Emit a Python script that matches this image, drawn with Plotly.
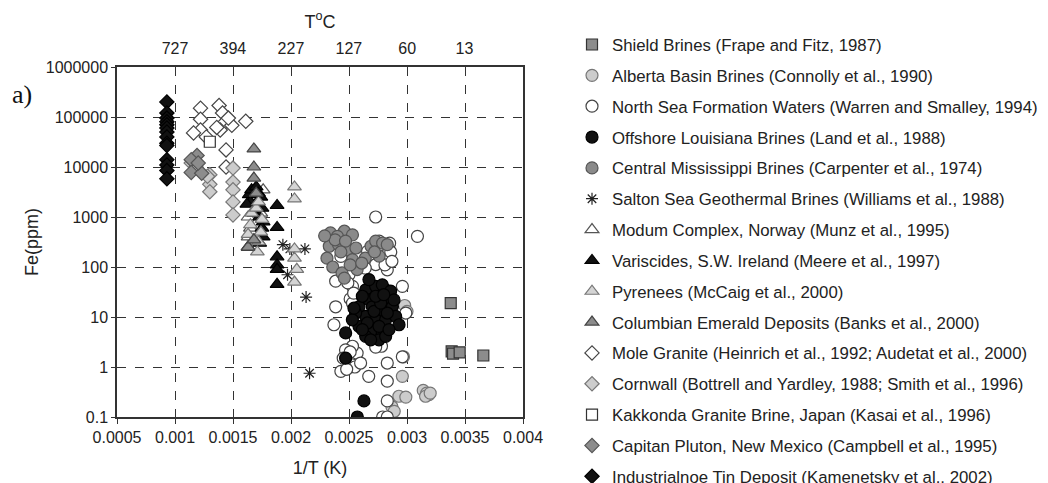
import plotly.graph_objects as go

# ---------------- data: x = 1/T (1/K), y = Fe (ppm) ----------------
shield_x = [0.003377, 0.003385, 0.003397, 0.003454, 0.003658]
shield_y = [19, 2.06, 1.85, 1.97, 1.7]

alberta_x = [0.00298, 0.00300, 0.00297, 0.00296, 0.00293, 0.00299, 0.00287, 0.00289,
             0.00314, 0.00317, 0.00319, 0.00316, 0.00320]
alberta_y = [17, 13, 1.6, 0.65, 0.26, 0.25, 0.16, 0.13, 0.34, 0.30, 0.28, 0.26, 0.30]

northsea_x = [0.00273, 0.00309, 0.002385, 0.002385, 0.00237, 0.00253, 0.00251, 0.00253,
              0.00296, 0.00299, 0.00243, 0.00253, 0.00257, 0.00253, 0.00247, 0.00267,
              0.00283, 0.00283, 0.00296, 0.00283, 0.00279, 0.00283, 0.00276, 0.00282,
              0.00266, 0.00279, 0.00283, 0.00273, 0.00264, 0.00250, 0.00243, 0.00249,
              0.00254, 0.00278, 0.00273, 0.00285, 0.00286, 0.00281, 0.00275, 0.00287,
              0.00255, 0.00251, 0.00260, 0.00245, 0.00248]
northsea_y = [1000, 410, 52, 16, 7, 41, 23, 19,
              41, 12, 0.82, 1.1, 1.9, 2.6, 2.2, 0.65,
              1.2, 0.52, 1.6, 0.21, 0.1, 0.1, 330, 240,
              206, 140, 88, 112, 95, 70, 163, 48,
              30, 2.6, 2.5, 300, 200, 110, 250, 130,
              1.0, 2.0, 1.2, 1.5, 0.9]

louisiana_x = [0.002644, 0.00273, 0.002816, 0.002759, 0.002672, 0.002845, 0.002586, 0.002701,
               0.002787, 0.002874, 0.002644, 0.00273, 0.002816, 0.002902, 0.002586, 0.002701,
               0.002787, 0.002644, 0.002759, 0.002816, 0.002931, 0.002471, 0.002471, 0.002629,
               0.002572, 0.002557, 0.002672, 0.002787, 0.002859, 0.00283, 0.002615, 0.002716,
               0.002658, 0.002759, 0.002845, 0.002529, 0.002888, 0.002773, 0.002615, 0.002687,
               0.00273, 0.0028, 0.002543]
louisiana_y = [35, 41, 35, 26, 22, 22, 16, 16,
               14, 16, 10.3, 8.8, 8.8, 10.3, 6.5, 5.6,
               4.8, 4.1, 3.5, 4.1, 7.0, 4.8, 1.5, 0.21,
               0.1, 12, 56, 44, 33, 12, 26, 13,
               7.6, 6.5, 5.6, 8.8, 22, 19, 5.6, 3.5,
               26, 28, 15]

mississippi_x = [0.00234, 0.00246, 0.00253, 0.00233, 0.00241, 0.00249, 0.00231, 0.00236,
                 0.00244, 0.00253, 0.00257, 0.00264, 0.00269, 0.00273, 0.00279, 0.00276,
                 0.00240, 0.00256, 0.00238, 0.00247, 0.00243, 0.00251, 0.00246, 0.00261,
                 0.00283, 0.00272, 0.00229]
mississippi_y = [480, 520, 440, 260, 280, 220, 150, 100,
                 76, 140, 89, 150, 260, 330, 300, 165,
                 410, 240, 350, 330, 200, 110, 60, 120,
                 280, 200, 420]

salton_x = [0.00193, 0.00212, 0.00199, 0.00197, 0.00213, 0.00216]
salton_y = [280, 230, 230, 70, 25, 0.75]

modum_x = [0.00163, 0.00168, 0.00170, 0.00171, 0.00165, 0.00163, 0.00169, 0.00174, 0.00176]
modum_y = [1000, 2500, 3000, 1800, 600, 400, 700, 1200, 3500]

variscides_x = [0.00164, 0.00165, 0.00166, 0.00170, 0.00172, 0.00174, 0.00175, 0.00173,
                0.00176, 0.00175, 0.00176, 0.00173, 0.00168, 0.00162, 0.00188, 0.00188,
                0.00188, 0.00188, 0.00188, 0.00188, 0.00163]
variscides_y = [2800, 2000, 3500, 4000, 3000, 2500, 1500, 1000,
                800, 600, 400, 300, 1200, 1800, 1700, 620,
                160, 110, 90, 45, 250]

pyrenees_x = [0.00203, 0.00203, 0.00203, 0.00203, 0.00205, 0.00203, 0.00171, 0.00172,
              0.00163, 0.00165, 0.00166, 0.00170, 0.00172, 0.00175, 0.00174, 0.00168]
pyrenees_y = [4000, 2300, 230, 150, 90, 50, 200, 320,
              450, 700, 1200, 1500, 2000, 900, 500, 350]

columbian_x = [0.00168, 0.00168, 0.00168, 0.00163, 0.00168, 0.00170]
columbian_y = [23000, 10000, 6000, 250, 350, 3000]

mole_x = [0.00122, 0.00138, 0.00141, 0.00122, 0.00142, 0.00149, 0.00161, 0.00122,
          0.00116, 0.00139, 0.00127, 0.00136, 0.00144, 0.00144, 0.00146]
mole_y = [150000, 170000, 120000, 90000, 75000, 68000, 82000, 55000,
          48000, 55000, 40000, 62000, 22000, 10000, 95000]

cornwall_x = [0.00114, 0.00118, 0.00150, 0.00130, 0.00150, 0.00130, 0.00150, 0.00130,
              0.00150, 0.00150, 0.00128]
cornwall_y = [12000, 10000, 9500, 7000, 5000, 4500, 3500, 3200, 2000, 1100, 6500]

kakkonda_x = [0.00130]
kakkonda_y = [32000]

capitan_x = [0.00119, 0.00114, 0.00114, 0.00123, 0.00120]
capitan_y = [17000, 14000, 7800, 7500, 12000]

industrialnoe_x = [0.00093] * 14
industrialnoe_y = [200000, 120000, 95000, 80000, 70000, 60000, 50000, 40000,
                   30000, 27000, 14000, 11000, 8500, 5800]

# axis ticks
x_ticks = [0.0005, 0.001, 0.0015, 0.002, 0.0025, 0.003, 0.0035, 0.004]
x_tick_text = ["0.0005", "0.001", "0.0015", "0.002", "0.0025", "0.003", "0.0035", "0.004"]
y_ticks = [0.1, 1, 10, 100, 1000, 10000, 100000, 1000000]
y_tick_text = ["0.1", "1", "10", "100", "1000", "10000", "100000", "1000000"]
top_temps_c = [727, 394, 227, 127, 60, 13]

# ---------------- series: (name, x, y, symbol, fill, outline, size) ----------------
series = [
    ("Shield Brines (Frape and Fitz, 1987)", shield_x, shield_y, "square", "#8c8c8c", "#333333", 11),
    ("Alberta Basin Brines (Connolly et al., 1990)", alberta_x, alberta_y, "circle", "#cccccc", "#777777", 12),
    ("North Sea Formation Waters (Warren and Smalley, 1994)", northsea_x, northsea_y, "circle", "#ffffff", "#444444", 12),
    ("Offshore Louisiana Brines (Land et al., 1988)", louisiana_x, louisiana_y, "circle", "#111111", "#000000", 12),
    ("Central Mississippi Brines (Carpenter et al., 1974)", mississippi_x, mississippi_y, "circle", "#8a8a8a", "#555555", 12),
    ("Salton Sea Geothermal Brines (Williams et al., 1988)", salton_x, salton_y, "asterisk-open", "#222222", "#222222", 10),
    ("Modum Complex, Norway (Munz et al., 1995)", modum_x, modum_y, "triangle-up", "#ffffff", "#555555", 12),
    ("Variscides, S.W. Ireland (Meere et al., 1997)", variscides_x, variscides_y, "triangle-up", "#111111", "#000000", 12),
    ("Pyrenees (McCaig et al., 2000)", pyrenees_x, pyrenees_y, "triangle-up", "#d4d4d4", "#777777", 12),
    ("Columbian Emerald Deposits (Banks et al., 2000)", columbian_x, columbian_y, "triangle-up", "#8c8c8c", "#444444", 12),
    ("Mole Granite (Heinrich et al., 1992; Audetat et al., 2000)", mole_x, mole_y, "diamond", "#ffffff", "#444444", 11),
    ("Cornwall (Bottrell and Yardley, 1988; Smith et al., 1996)", cornwall_x, cornwall_y, "diamond", "#cccccc", "#777777", 11),
    ("Kakkonda Granite Brine, Japan (Kasai et al., 1996)", kakkonda_x, kakkonda_y, "square", "#ffffff", "#333333", 11),
    ("Capitan Pluton, New Mexico (Campbell et al., 1995)", capitan_x, capitan_y, "diamond", "#8c8c8c", "#555555", 11),
    ("Industrialnoe Tin Deposit (Kamenetsky et al., 2002)", industrialnoe_x, industrialnoe_y, "diamond", "#111111", "#000000", 11),
]

fig = go.Figure()
for i, (name, xs, ys, sym, fill, line, size) in enumerate(series):
    fig.add_trace(go.Scatter(
        x=xs, y=ys, mode="markers", name=name, legendgroup="g%d" % i,
        marker=dict(symbol=sym, size=size, color=fill,
                    line=dict(color=line, width=1.2)),
    ))

# empty trace so that the top (temperature) axis is drawn
top_tick_x = [1.0 / (t + 273.15) for t in top_temps_c]
fig.add_trace(go.Scatter(x=top_tick_x, y=[None] * len(top_tick_x), xaxis="x2", yaxis="y",
                         mode="markers", showlegend=False, hoverinfo="skip"))

FONT = "Liberation Sans, Arial, sans-serif"
TXT = "#222222"

# figure is drawn 8px in from the page corner (body margin), so size/margins compensate
W, H = 1040, 475
ML, MT = 109, 59
PW, PH = 406, 350

fig.update_layout(
    width=W, height=H,
    margin=dict(l=ML, r=W - ML - PW, t=MT, b=H - MT - PH, autoexpand=False),
    paper_bgcolor="white", plot_bgcolor="white",
    font=dict(family=FONT, size=16, color=TXT),
    xaxis=dict(
        range=[0.0005, 0.004], tickvals=x_ticks, ticktext=x_tick_text,
        showgrid=True, gridcolor="#333333", gridwidth=1, griddash="dash",
        showline=True, linecolor="#333333", linewidth=1.5, mirror=True,
        ticks="outside", ticklen=5, tickcolor="#333333",
        zeroline=False,
        title=dict(text="1/T (K)", font=dict(size=18, family=FONT, color=TXT), standoff=16),
    ),
    xaxis2=dict(
        overlaying="x", side="top", range=[0.0005, 0.004],
        tickvals=top_tick_x,
        ticktext=[str(t) for t in top_temps_c],
        showgrid=False, showline=False, zeroline=False,
        ticks="", ticklabelstandoff=9,
        title=dict(text="T<sup>o</sup>C", font=dict(size=18, family=FONT, color=TXT), standoff=6),
    ),
    yaxis=dict(
        type="log", range=[-1, 6], tickvals=y_ticks, ticktext=y_tick_text,
        showgrid=True, gridcolor="#333333", gridwidth=1, griddash="dash",
        showline=True, linecolor="#333333", linewidth=1.5, mirror=True,
        ticks="outside", ticklen=4, tickcolor="#333333",
        zeroline=False,
        title=dict(text="Fe(ppm)", font=dict(size=18, family=FONT, color=TXT), standoff=2),
    ),
    legend=dict(
        x=1.1207, y=1.114, xanchor="left", yanchor="top",
        xref="paper", yref="paper",
        font=dict(size=16.8, family=FONT, color=TXT),
        tracegroupgap=6, maxheight=700,
        bgcolor="rgba(0,0,0,0)", borderwidth=0,
    ),
    annotations=[
        dict(text="a)", x=(14 - ML) / PW, y=1 + (MT - 86) / PH,
             xref="paper", yref="paper", xanchor="center", yanchor="middle", showarrow=False,
             font=dict(family="Liberation Serif, Times New Roman, serif", size=26, color="#111111")),
    ],
)

fig.write_html("out.html")
